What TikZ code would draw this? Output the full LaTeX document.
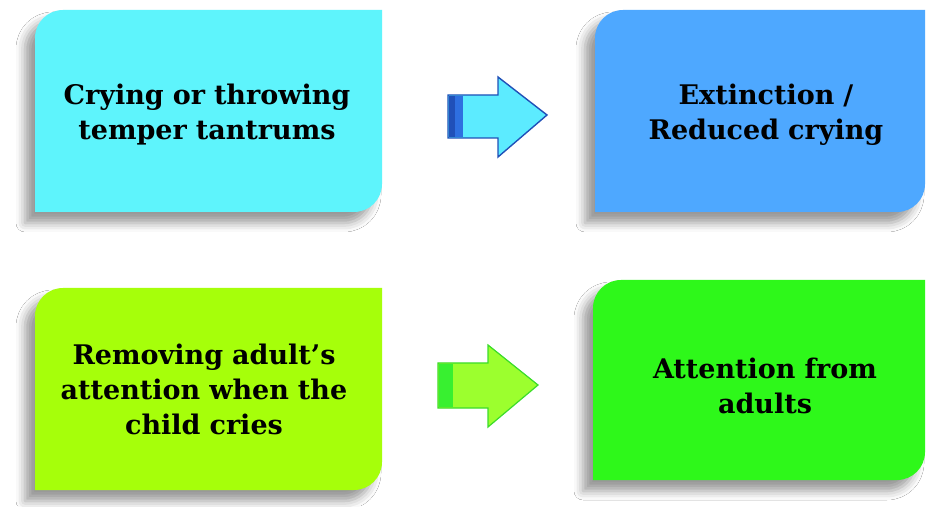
\documentclass[tikz,border=0pt]{standalone}
\usepackage{fontspec}
\setmainfont{DejaVu Serif}
\usetikzlibrary{calc,shadows.blur,backgrounds}
\definecolor{cyanbox}{HTML}{5EF4FC}
\definecolor{bluebox}{HTML}{4EA8FF}
\definecolor{limebox}{HTML}{A6FF0A}
\definecolor{greenbox}{HTML}{2EF81A}
\definecolor{arrowcyan}{HTML}{5CEBFF}
\definecolor{arrowblueedge}{HTML}{2050B8}
\definecolor{arrowblueband}{HTML}{2E6FE0}
\definecolor{arrowlime}{HTML}{9CFF2E}
\definecolor{arrowgreenedge}{HTML}{3CDC2A}
\definecolor{arrowgreenband}{HTML}{38F030}
\tikzset{
  x=1pt,y=1pt,
  boxtext/.style={minimum width=#1, text width=#1-10pt, align=center, inner sep=0pt,
     font=\bfseries\fontsize{27}{35}\selectfont},
  boxshadow/.style={blur shadow={shadow xshift=-10pt, shadow yshift=-11pt, shadow blur radius=9pt, shadow opacity=40}},
}
\begin{document}
\begin{tikzpicture}
\useasboundingbox (0,0) rectangle (928,506);
\fill[white] (0,0) rectangle (928,506);

% boxes
\coordinate (c1) at (208.5,395);
\coordinate (c2) at (760,395);
\coordinate (c3) at (208.5,117);
\coordinate (c4) at (759,126);

\fill[cyanbox,boxshadow] let \p1=(c1) in
    (\x1-173.5,\y1-101) -- (\x1-173.5,\y1+101-28) arc[start angle=180,end angle=90,radius=28]
    -- (\x1+173.5,\y1+101) -- (\x1+173.5,\y1-101+28) arc[start angle=0,end angle=-90,radius=28] -- cycle;
\fill[bluebox,boxshadow] let \p1=(c2) in
    (\x1-165,\y1-101) -- (\x1-165,\y1+101-28) arc[start angle=180,end angle=90,radius=28]
    -- (\x1+165,\y1+101) -- (\x1+165,\y1-101+28) arc[start angle=0,end angle=-90,radius=28] -- cycle;
\fill[limebox,boxshadow] let \p1=(c3) in
    (\x1-173.5,\y1-101) -- (\x1-173.5,\y1+101-28) arc[start angle=180,end angle=90,radius=28]
    -- (\x1+173.5,\y1+101) -- (\x1+173.5,\y1-101+28) arc[start angle=0,end angle=-90,radius=28] -- cycle;
\fill[greenbox,boxshadow] let \p1=(c4) in
    (\x1-166,\y1-100) -- (\x1-166,\y1+100-28) arc[start angle=180,end angle=90,radius=28]
    -- (\x1+166,\y1+100) -- (\x1+166,\y1-100+28) arc[start angle=0,end angle=-90,radius=28] -- cycle;

\node[boxtext=340pt] (b1) at (207,391) {Crying or throwing\\temper tantrums};
\node[boxtext=340pt] (b2) at (766,391) {Extinction /\\Reduced crying};
\node[boxtext=340pt] (b3) at (204,117) {Removing adult’s\\attention when the\\child cries};
\node[boxtext=340pt] (b4) at (765,120) {Attention from\\adults};

% block arrows
\coordinate (a1) at (448,391);
\fill[arrowcyan,draw=arrowblueedge,line width=1.4pt,line join=miter]
  ($(a1)+(0,20)$) -- ++(50,0) -- ++(0,18) -- ($(a1)+(99,0)$) -- ($(a1)+(50,-42)$) -- ++(0,19) -- ($(a1)+(0,-23)$) -- cycle;
\fill[arrowblueband] ($(a1)+(0.7,19.3)$) rectangle ($(a1)+(15,-22.3)$);
\fill[arrowblueedge] ($(a1)+(0.7,19.3)$) rectangle ($(a1)+(7,-22.3)$);

\coordinate (a2) at (438,121);
\fill[arrowlime,draw=arrowgreenedge,line width=1.2pt,line join=miter]
  ($(a2)+(0,22)$) -- ++(50,0) -- ++(0,18) -- ($(a2)+(100,0)$) -- ($(a2)+(50,-42)$) -- ++(0,19) -- ($(a2)+(0,-23)$) -- cycle;
\fill[arrowgreenband] ($(a2)+(0.6,21.4)$) rectangle ($(a2)+(15,-22.4)$);
\end{tikzpicture}
\end{document}
